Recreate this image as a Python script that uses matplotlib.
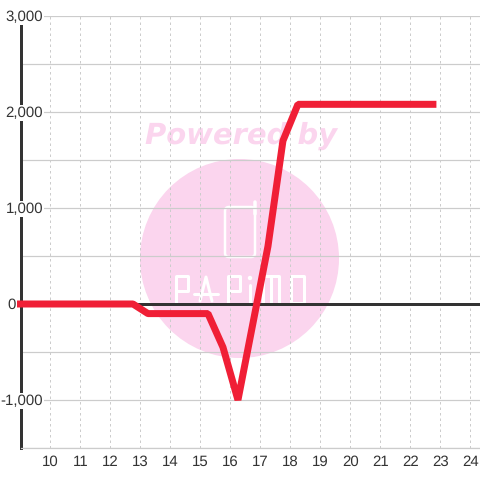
import matplotlib

matplotlib.use("Agg")
import matplotlib.pyplot as plt
from matplotlib.patches import Circle, FancyBboxPatch

# Data
hours = [9, 12.75, 13.25, 15.25, 15.75, 16.25, 16.75, 17.25, 17.75, 18.25, 22.75]
values = [0, 0, -100, -100, -450, -1000, -200, 600, 1700, 2080, 2080]
x_ticks = list(range(10, 25))
y_ticks = [-1000, 0, 1000, 2000, 3000]
y_minor = [-1500, -500, 500, 1500, 2500]
y_label_right = [22.5, -4.5, 22.5, 22.5, 22.5]  # px from the axis, "0" sits left of it

# Logo strokes, in pixels of the watermark layer
logo_strokes = [
    [(176, 303), (176, 276), (188, 276), (188, 291), (176, 291)],
    [(200, 301), (206, 277), (212, 301)],
    [(194, 294), (218, 294)],
    [(228, 303), (228, 276), (240, 276), (240, 291), (228, 291)],
    [(250, 285), (250, 303)],
    [(263, 303), (263, 276), (279, 276), (279, 303)],
    [(271, 276), (271, 303)],
    [(291, 276), (304, 276), (304, 303), (291, 303), (291, 276)],
]

PX = 72 / 100  # points per pixel at dpi 100
PINK = "#fbd5ee"
GRID = "#cccccc"
DARK = "#333333"
RED = "#f01f36"

plt.rcParams["font.family"] = ["Liberation Sans", "DejaVu Sans"]
plt.rcParams["text.hinting"] = "no_hinting"
plt.rcParams["text.hinting_factor"] = 1

fig = plt.figure(figsize=(4.8, 4.8), dpi=100, facecolor="white")

# Watermark sits behind the chart, laid out in pixels
bg = fig.add_axes([0, 0, 1, 1], zorder=0)
bg.set_xlim(0, 480)
bg.set_ylim(480, 0)
bg.axis("off")
bg.add_patch(Circle((239.5, 258.5), 99.5, fc=PINK, ec="none"))
bg.add_patch(
    FancyBboxPatch(
        (225, 207), 30, 50, boxstyle="round,pad=0,rounding_size=4",
        fc="none", ec="white", lw=2.5 * PX,
    )
)
bg.plot([254.5, 254.5], [202, 214], color="white", lw=3.5 * PX, solid_capstyle="round")
bg.text(
    241.5, 135.5, "Powered by", color=PINK, fontsize=20.8, fontweight="bold",
    fontstyle="italic", family="DejaVu Sans", ha="center", va="center",
)
for stroke in logo_strokes:
    bg.plot(
        [p[0] for p in stroke], [p[1] for p in stroke], color="white", lw=3 * PX,
        solid_capstyle="round", solid_joinstyle="round",
    )
bg.add_patch(Circle((250, 278), 2.2, fc="white", ec="none"))

ax = fig.add_axes([20.5 / 480, 32 / 480, 459.5 / 480, 432 / 480], zorder=1)
ax.patch.set_alpha(0)
ax.set_xlim(9, 24.32)
ax.set_ylim(-1500, 3000)

ax.set_xticks(x_ticks)
ax.set_yticks(y_ticks)
ax.set_yticks(y_minor, minor=True)
ax.set_axisbelow(True)
ax.grid(axis="x", color=GRID, lw=1 * PX, ls=(0, (2.5, 3)))
ax.grid(axis="y", which="both", color=GRID, lw=1.2 * PX)

ax.axhline(0, color=DARK, lw=3 * PX, zorder=2)
ax.plot(hours, values, color=RED, lw=7 * PX, zorder=3, solid_joinstyle="bevel", clip_on=False)

for side in ["top", "right"]:
    ax.spines[side].set_visible(False)
ax.spines["bottom"].set_color(GRID)
ax.spines["bottom"].set_linewidth(1.2 * PX)
ax.spines["left"].set_color(DARK)
ax.spines["left"].set_linewidth(3 * PX)

ax.tick_params(axis="both", which="both", length=0)
ax.tick_params(axis="x", labelsize=15 * PX, labelcolor=DARK, pad=5)
ax.set_yticklabels([])

# Y labels sit on top of the axis line with a white box behind them
for value, right in zip(y_ticks, y_label_right):
    ax.annotate(
        f"{value:,}", xy=(0, value), xycoords=ax.get_yaxis_transform(),
        xytext=(right * PX, -1 * PX), textcoords="offset points", ha="right", va="center",
        fontsize=15 * PX, color=DARK, zorder=2.6, annotation_clip=False,
        bbox=dict(facecolor="white", edgecolor="none", pad=1),
    )

fig.savefig("out.png", dpi=100)
